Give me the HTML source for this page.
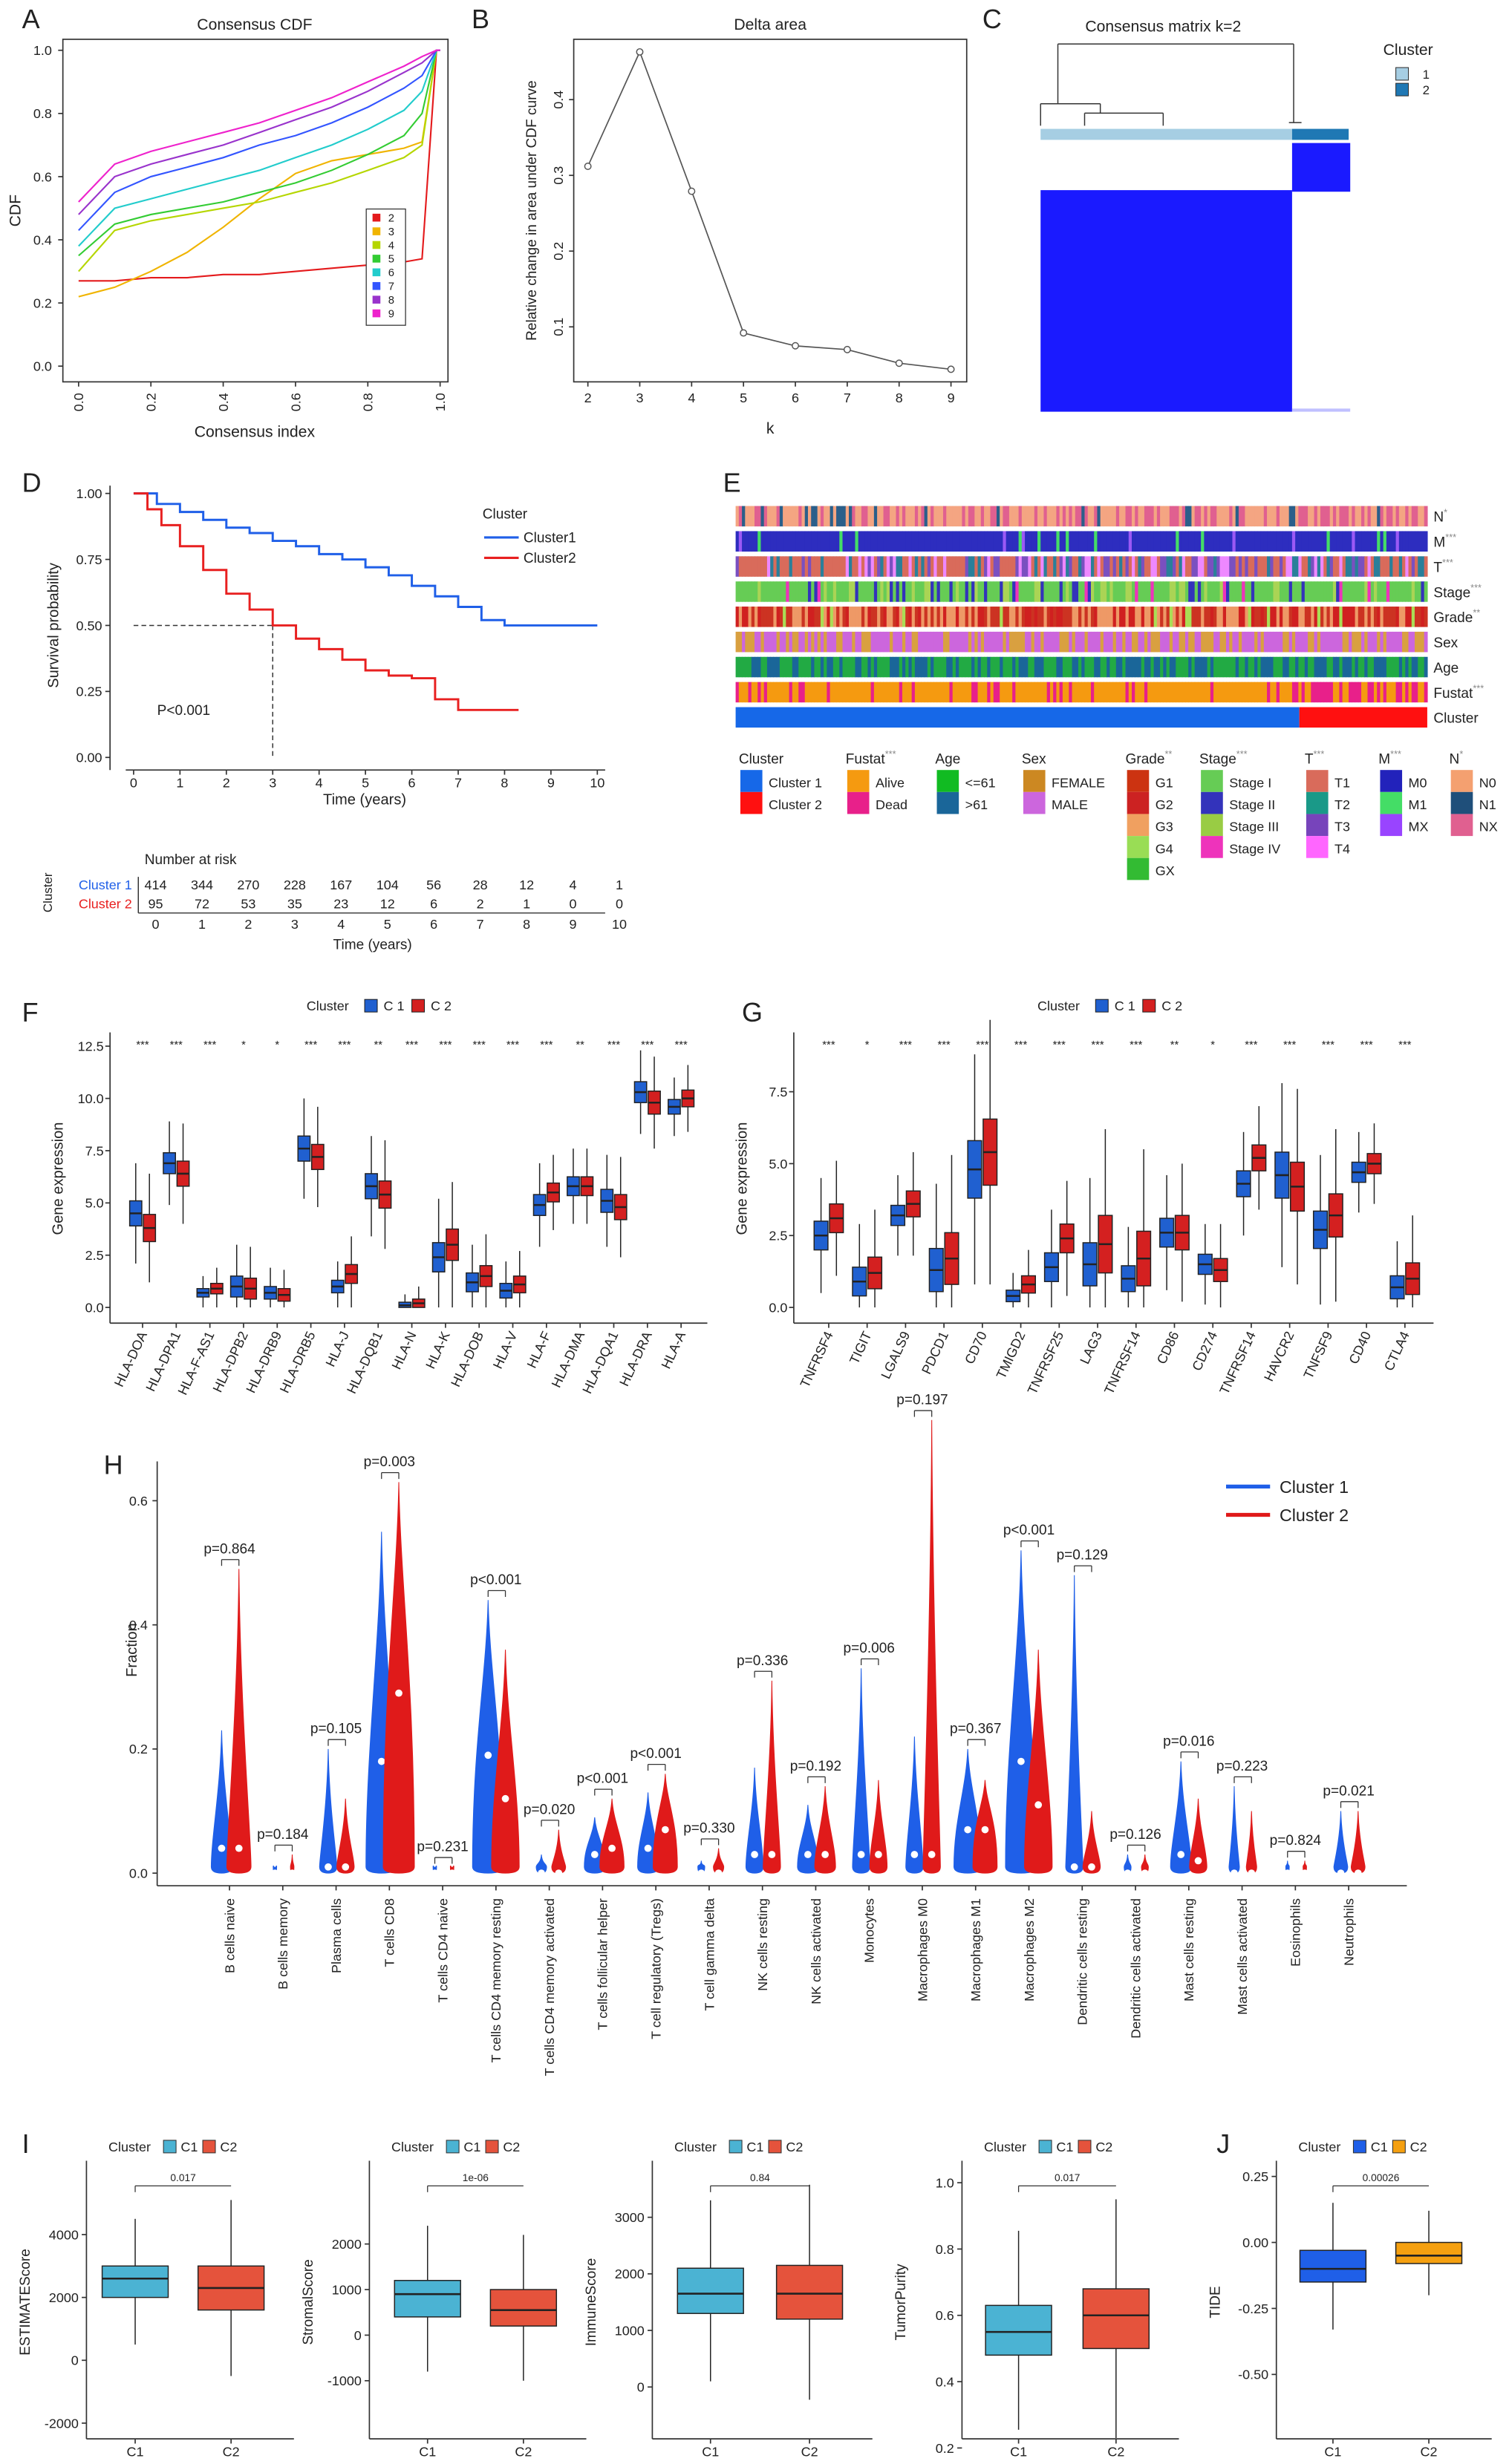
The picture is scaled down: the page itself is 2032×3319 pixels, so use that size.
<!DOCTYPE html>
<html><head><meta charset="utf-8">
<style>
html,body{margin:0;padding:0;background:#fff;}
svg{display:block;font-family:"Liberation Sans",sans-serif;}
</style></head>
<body>
<svg id="fig" width="2032" height="3319" viewBox="0 0 960 1568" preserveAspectRatio="none" xmlns="http://www.w3.org/2000/svg"></svg>
<script>
// ---------- DATA ----------
const cdfK = [2,3,4,5,6,7,8,9];
const cdfColors = ['#e41a1c','#f0b400','#b5d600','#33cc33','#22cccc','#3355ff','#9933cc','#ee22cc'];
const cdfX = [0,0.1,0.2,0.3,0.4,0.5,0.6,0.7,0.8,0.9,0.95,0.99];
const cdfK2 = [0.27,0.27,0.28,0.28,0.29,0.29,0.30,0.31,0.32,0.33,0.34,1];
const cdfK3 = [0.22,0.25,0.30,0.36,0.44,0.53,0.61,0.65,0.67,0.69,0.71,1];
const cdfK4 = [0.30,0.43,0.46,0.48,0.50,0.52,0.55,0.58,0.62,0.66,0.70,1];
const cdfK5 = [0.35,0.45,0.48,0.50,0.52,0.55,0.58,0.62,0.67,0.73,0.80,1];
const cdfK6 = [0.38,0.50,0.53,0.56,0.59,0.62,0.66,0.70,0.75,0.81,0.87,1];
const cdfK7 = [0.43,0.55,0.60,0.63,0.66,0.70,0.73,0.77,0.82,0.88,0.92,1];
const cdfK8 = [0.48,0.60,0.64,0.67,0.70,0.74,0.78,0.82,0.87,0.93,0.96,1];
const cdfK9 = [0.52,0.64,0.68,0.71,0.74,0.77,0.81,0.85,0.90,0.95,0.98,1];
const deltaK = [2,3,4,5,6,7,8,9];
const deltaV = [0.312,0.463,0.279,0.092,0.075,0.070,0.052,0.044];
const survT1 = [0,0.5,1,1.5,2,2.5,3,3.5,4,4.5,5,5.5,6,6.5,7,7.5,8,9,10];
const survS1 = [1,0.96,0.93,0.90,0.87,0.85,0.82,0.80,0.77,0.75,0.72,0.69,0.65,0.61,0.57,0.52,0.50,0.50,0.50];
const survT2 = [0,0.3,0.6,1,1.5,2,2.5,3,3.5,4,4.5,5,5.5,6,6.5,7,7.5,8.3];
const survS2 = [1,0.94,0.88,0.80,0.71,0.62,0.56,0.50,0.45,0.41,0.37,0.33,0.31,0.30,0.22,0.18,0.18,0.18];
const riskTimes = [0,1,2,3,4,5,6,7,8,9,10];
const risk1 = [414,344,270,228,167,104,56,28,12,4,1];
const risk2 = [95,72,53,35,23,12,6,2,1,0,0];
const fGenes = ['HLA-DOA','HLA-DPA1','HLA-F-AS1','HLA-DPB2','HLA-DRB9','HLA-DRB5','HLA-J','HLA-DQB1','HLA-N','HLA-K','HLA-DOB','HLA-V','HLA-F','HLA-DMA','HLA-DQA1','HLA-DRA','HLA-A'];
const fStars = ['***','***','***','*','*','***','***','**','***','***','***','***','***','**','***','***','***'];
const fMed1 = [4.5,6.9,0.7,1.0,0.7,7.6,1.0,5.8,0.1,2.4,1.2,0.8,4.9,5.8,5.1,10.3,9.6];
const fIqr1 = [1.2,1.0,0.4,1.0,0.6,1.2,0.6,1.2,0.3,1.4,0.9,0.7,1.0,0.9,1.1,1.0,0.7];
const fMed2 = [3.8,6.4,0.9,0.9,0.6,7.2,1.6,5.4,0.2,3.0,1.5,1.1,5.5,5.8,4.8,9.8,10.0];
const fIqr2 = [1.3,1.2,0.5,1.0,0.6,1.2,0.9,1.3,0.4,1.5,1.0,0.8,0.9,0.9,1.2,1.1,0.8];
const gGenes = ['TNFRSF4','TIGIT','LGALS9','PDCD1','CD70','TMIGD2','TNFRSF25','LAG3','TNFRSF14','CD86','CD274','TNFRSF14','HAVCR2','TNFSF9','CD40','CTLA4'];
const gStars = ['***','*','***','***','***','***','***','***','***','**','*','***','***','***','***','***'];
const gMed1 = [2.5,0.9,3.2,1.3,4.8,0.4,1.4,1.5,1.0,2.6,1.5,4.3,4.6,2.7,4.7,0.7];
const gIqr1 = [1.0,1.0,0.7,1.5,2.0,0.4,1.0,1.5,0.9,1.0,0.7,0.9,1.6,1.3,0.7,0.8];
const gMed2 = [3.1,1.2,3.6,1.7,5.4,0.8,2.4,2.2,1.7,2.6,1.3,5.2,4.2,3.2,5.0,1.0];
const gIqr2 = [1.0,1.1,0.9,1.8,2.3,0.6,1.0,2.0,1.9,1.2,0.8,0.9,1.7,1.5,0.7,1.1];
const hCells = ['B cells naive','B cells memory','Plasma cells','T cells CD8','T cells CD4 naive','T cells CD4 memory resting','T cells CD4 memory activated','T cells follicular helper','T cell regulatory (Tregs)','T cell gamma delta','NK cells resting','NK cells activated','Monocytes','Macrophages M0','Macrophages M1','Macrophages M2','Dendritic cells resting','Dendritic cells activated','Mast cells resting','Mast cells activated','Eosinophils','Neutrophils'];
const hP = ['p=0.864','p=0.184','p=0.105','p=0.003','p=0.231','p<0.001','p=0.020','p<0.001','p<0.001','p=0.330','p=0.336','p=0.192','p=0.006','p=0.197','p=0.367','p<0.001','p=0.129','p=0.126','p=0.016','p=0.223','p=0.824','p=0.021'];
const hMed1 = [0.04,0,0.01,0.18,0,0.19,0,0.03,0.04,0,0.03,0.03,0.03,0.03,0.07,0.18,0.01,0,0.03,0,0,0];
const hMed2 = [0.04,0,0.01,0.29,0,0.12,0,0.04,0.07,0,0.03,0.03,0.03,0.03,0.07,0.11,0.01,0,0.02,0,0,0];
const hMax1 = [0.23,0.01,0.20,0.55,0.01,0.44,0.03,0.09,0.13,0.02,0.17,0.11,0.33,0.22,0.20,0.52,0.48,0.03,0.18,0.14,0.02,0.10];
const hMax2 = [0.49,0.03,0.12,0.63,0.01,0.36,0.07,0.12,0.16,0.04,0.31,0.14,0.15,0.73,0.15,0.36,0.10,0.03,0.12,0.10,0.02,0.10];
const hWid1 = [0.6,0.1,0.5,0.9,0.1,0.9,0.3,0.6,0.6,0.2,0.5,0.6,0.5,0.5,0.8,0.9,0.5,0.2,0.6,0.3,0.1,0.4];
const hWid2 = [0.7,0.1,0.5,0.9,0.1,0.8,0.4,0.7,0.7,0.3,0.5,0.6,0.5,0.5,0.7,0.8,0.5,0.2,0.5,0.3,0.1,0.4];
const iTitles = ['ESTIMATEScore','StromalScore','ImmuneScore','TumorPurity','TIDE'];
const iP = ['0.017','1e-06','0.84','0.017','0.00026'];
const iQ1a = [2000,400,1300,0.48,-0.15], iMeda=[2600,900,1650,0.55,-0.10], iQ3a=[3000,1200,2100,0.63,-0.03];
const iQ1b = [1600,200,1200,0.50,-0.08], iMedb=[2300,550,1650,0.60,-0.05], iQ3b=[3000,1000,2150,0.68,0.00];
const iTicks = [[-2000,0,2000,4000],[-1000,0,1000,2000],[0,1000,2000,3000],[0.2,0.4,0.6,0.8,1.0],[-0.50,-0.25,0.00,0.25]];

// ---------- HELPERS ----------
const NS='http://www.w3.org/2000/svg';
const svg=document.getElementById('fig');
function E(tag,a,name,parent,inter){
  const el=document.createElementNS(NS,tag);
  for(const k in a) el.setAttribute(k,a[k]);
  
  
  (parent||svg).appendChild(el);
  return el;
}
function T(x,y,s,name,o,parent){
  o=o||{};
  const a={x:x,y:y,'font-size':o.fs||9,fill:o.fill||'#222','text-anchor':o.anchor||'middle'};
  if(o.rot!==undefined) a.transform='rotate('+o.rot+' '+x+' '+y+')';
  if(o.fw) a['font-weight']=o.fw;
  const t=E('text',a,name,parent);
  t.textContent=s; return t;
}
function L(x1,y1,x2,y2,name,st,w,parent,dash){
  const a={x1:x1,y1:y1,x2:x2,y2:y2,stroke:st||'#333','stroke-width':w||0.8};
  if(dash) a['stroke-dasharray']=dash;
  return E('line',a,name,parent);
}
function G(name){return E('g',{},name,svg);}
function boxplot(g,cx,w,q1,med,q3,ys,fill,name,vmin,stroke){
  const iqr=q3-q1; let lo=q1-1.5*iqr, hi=q3+1.5*iqr;
  if(vmin!==undefined && lo<vmin) lo=vmin;
  stroke=stroke||'#222';
  L(cx,ys(hi),cx,ys(q3),name+'-whisker-hi',stroke,0.7,g);
  L(cx,ys(q1),cx,ys(lo),name+'-whisker-lo',stroke,0.7,g);
  E('rect',{x:cx-w/2,y:ys(q3),width:w,height:Math.max(0.5,ys(q1)-ys(q3)),fill:fill,stroke:stroke,'stroke-width':0.7},name+'-box',g);
  L(cx-w/2,ys(med),cx+w/2,ys(med),name+'-median',stroke,1.2,g);
}

// ---------- PANEL LETTERS ----------
[['A',14,18],['B',300,18],['C',625,18],['D',14,313],['E',460,313],['F',14,650],['G',472,650],['H',66,938],['I',14,1370],['J',774,1370]].forEach(p=>T(p[1],p[2],p[0],'panel-label-'+p[0].toLowerCase(),{fs:17,anchor:'start'}));

// ---------- A: CDF ----------
(function(){
  const g=G('panel-a-consensus-cdf');
  const xs=v=>50+v*230, ys=v=>233-v*201;
  T(162,19,'Consensus CDF','panel-a-title',{fs:10},g);
  E('rect',{x:40,y:25,width:245,height:218,fill:'none',stroke:'#333','stroke-width':0.8},'panel-a-frame',g);
  [0,0.2,0.4,0.6,0.8,1].forEach(v=>{
    L(37,ys(v),40,ys(v),'y-tick',null,0.8,g);
    T(33,ys(v)+3,v.toFixed(1),'y-tick-label',{fs:8.5,anchor:'end'},g);
    L(xs(v),243,xs(v),246,'x-tick',null,0.8,g);
    T(xs(v)+3,250,v.toFixed(1),'x-tick-label',{fs:8.5,anchor:'end',rot:-90},g);
  });
  T(13,134,'CDF','y-axis-title',{fs:10,rot:-90},g);
  T(162,278,'Consensus index','x-axis-title',{fs:10},g);
  const series=[cdfK2,cdfK3,cdfK4,cdfK5,cdfK6,cdfK7,cdfK8,cdfK9];
  series.forEach((s,i)=>{
    let d='';
    s.forEach((v,j)=>{d+=(j?'L':'M')+xs(cdfX[j]).toFixed(1)+','+ys(v).toFixed(1);});
    d+='L'+xs(1)+','+ys(1);
    E('path',{d:d,fill:'none',stroke:cdfColors[i],'stroke-width':1},'cdf-line-k'+cdfK[i],g);
  });
  E('rect',{x:233,y:133,width:25,height:74,fill:'#fff',stroke:'#333','stroke-width':0.6},'legend-box',g);
  cdfK.forEach((k,i)=>{
    const y=139+i*8.7;
    E('rect',{x:237,y:y-3,width:5,height:5,fill:cdfColors[i]},'legend-swatch-k'+k,g);
    T(247,y+2,String(k),'legend-entry-k'+k,{fs:7,anchor:'start'},g);
  });
})();

// ---------- B: delta ----------
(function(){
  const g=G('panel-b-delta-area');
  const xs=k=>374+(k-2)*33, ys=v=>208-(v-0.1)*482;
  T(490,19,'Delta area','panel-b-title',{fs:10},g);
  E('rect',{x:365,y:25,width:250,height:218,fill:'none',stroke:'#333','stroke-width':0.8},'panel-b-frame',g);
  [0.1,0.2,0.3,0.4].forEach(v=>{
    L(362,ys(v),365,ys(v),'y-tick',null,0.8,g);
    T(358,ys(v),v.toFixed(1),'y-tick-label',{fs:8.5,rot:-90},g);
  });
  deltaK.forEach(k=>{L(xs(k),243,xs(k),246,'x-tick',null,0.8,g);T(xs(k),256,String(k),'x-tick-label',{fs:8.5},g);});
  T(341,134,'Relative change in area under CDF curve','y-axis-title',{fs:9,rot:-90},g);
  T(490,276,'k','x-axis-title',{fs:10},g);
  let d='';deltaK.forEach((k,i)=>{d+=(i?'L':'M')+xs(k)+','+ys(deltaV[i]).toFixed(1);});
  E('path',{d:d,fill:'none',stroke:'#555','stroke-width':0.8},'delta-line',g);
  deltaK.forEach((k,i)=>E('circle',{cx:xs(k),cy:ys(deltaV[i]),r:2,fill:'#fff',stroke:'#555','stroke-width':0.7},'delta-point-k'+k,g));
})();

// ---------- C: consensus matrix ----------
(function(){
  const g=G('panel-c-consensus-matrix');
  T(740,20,'Consensus matrix k=2','panel-c-title',{fs:10},g);
  const st='#333';
  L(673,28,823,28,'dendrogram',st,0.7,g);L(673,28,673,66,'dendrogram',st,0.7,g);L(823,28,823,78,'dendrogram',st,0.7,g);
  L(662,66,700,66,'dendrogram',st,0.7,g);L(662,66,662,80,'dendrogram',st,0.7,g);L(700,66,700,72,'dendrogram',st,0.7,g);
  L(690,72,740,72,'dendrogram',st,0.7,g);L(690,72,690,80,'dendrogram',st,0.7,g);L(740,72,740,80,'dendrogram',st,0.7,g);
  L(820,78,828,78,'dendrogram',st,0.7,g);
  E('rect',{x:662,y:82,width:160,height:7,fill:'#a6cee3'},'cluster-bar-1',g);
  E('rect',{x:822,y:82,width:36,height:7,fill:'#1f78b4'},'cluster-bar-2',g);
  E('rect',{x:822,y:91,width:37,height:31,fill:'#1a1aff'},'matrix-block-2',g);
  E('rect',{x:662,y:121,width:160,height:141,fill:'#1a1aff'},'matrix-block-1',g);
  E('rect',{x:822,y:260,width:37,height:2,fill:'#c0c0ff'},'matrix-edge',g);
  T(880,35,'Cluster','legend-title',{fs:10,anchor:'start'},g);
  E('rect',{x:888,y:43,width:8,height:8,fill:'#a6cee3',stroke:'#333','stroke-width':0.5},'legend-swatch-1',g);
  T(905,50,'1','legend-entry-1',{fs:8,anchor:'start'},g);
  E('rect',{x:888,y:53,width:8,height:8,fill:'#1f78b4',stroke:'#333','stroke-width':0.5},'legend-swatch-2',g);
  T(905,60,'2','legend-entry-2',{fs:8,anchor:'start'},g);
})();

// ---------- D: survival ----------
(function(){
  const g=G('panel-d-survival');
  const xs=t=>85+t*29.5, ys=v=>482-v*168;
  L(70,309,70,490,'y-axis',null,0.8,g);L(80,490,385,490,'x-axis',null,0.8,g);
  [0,0.25,0.5,0.75,1].forEach(v=>{L(67,ys(v),70,ys(v),'y-tick',null,0.8,g);T(65,ys(v)+3,v.toFixed(2),'y-tick-label',{fs:8.5,anchor:'end'},g);});
  riskTimes.forEach(t=>{L(xs(t),490,xs(t),493,'x-tick',null,0.8,g);T(xs(t),501,String(t),'x-tick-label',{fs:8.5},g);});
  T(37,398,'Survival probability','y-axis-title',{fs:9.5,rot:-90},g);
  T(232,512,'Time (years)','x-axis-title',{fs:9.5},g);
  L(85,ys(0.5),xs(3),ys(0.5),'median-line',null,0.7,g,'3,2');L(xs(3),ys(0.5),xs(3),482,'median-line',null,0.7,g,'3,2');
  T(100,455,'P<0.001','p-value',{fs:9,anchor:'start'},g);
  function step(T_,S_,col,name){
    let d='M'+xs(T_[0])+','+ys(S_[0]);
    for(let i=1;i<T_.length;i++){d+='H'+xs(T_[i]).toFixed(1)+'V'+ys(S_[i]).toFixed(1);}
    E('path',{d:d,fill:'none',stroke:col,'stroke-width':1.4},name,g);
  }
  step(survT1,survS1,'#1f5fe8','survival-curve-cluster1');
  step(survT2,survS2,'#e82020','survival-curve-cluster2');
  T(307,330,'Cluster','legend-title',{fs:9,anchor:'start'},g);
  L(308,342,330,342,'legend-line-cluster1','#1f5fe8',1.5,g);T(333,345,'Cluster1','legend-entry-cluster1',{fs:9,anchor:'start'},g);
  L(308,355,330,355,'legend-line-cluster2','#e82020',1.5,g);T(333,358,'Cluster2','legend-entry-cluster2',{fs:9,anchor:'start'},g);
  T(92,550,'Number at risk','risk-table-title',{fs:9,anchor:'start'},g);
  T(33,568,'Cluster','risk-y-title',{fs:8,rot:-90},g);
  T(84,566,'Cluster 1','risk-row-label-1',{fs:8.5,anchor:'end',fill:'#1f5fe8'},g);
  T(84,578,'Cluster 2','risk-row-label-2',{fs:8.5,anchor:'end',fill:'#e82020'},g);
  L(88,558,88,581,'risk-axis',null,0.7,g);L(88,581,385,581,'risk-axis',null,0.7,g);
  riskTimes.forEach((t,i)=>{
    T(xs(t)+14,566,String(risk1[i]),'risk-count-c1',{fs:8.5},g);
    T(xs(t)+14,578,String(risk2[i]),'risk-count-c2',{fs:8.5},g);
    T(xs(t)+14,591,String(t),'risk-x-tick-label',{fs:8.5},g);
  });
  T(237,604,'Time (years)','risk-x-title',{fs:9},g);
})();

// ---------- E: annotation heatmap ----------
const eRows=['N*','M***','T***','Stage***','Grade**','Sex','Age','Fustat***','Cluster'];
const ePal=[['#f4a582','#e06090','#2b5f8a'],['#2d2dbf','#44dd66','#9b59f5'],['#d96b5b','#2a7f9a','#7a50c0','#ee88ff'],['#66cc55','#aad455','#3333bb','#ee33bb'],['#cc3322','#ee9966','#d02020','#aadd55'],['#d9a040','#cc66dd'],['#22aa44','#1a6699'],['#f59a10','#e8208a'],['#1668e8','#ff1010']];
const eWeights=[[0.55,0.35,0.10],[0.88,0.08,0.04],[0.45,0.2,0.25,0.1],[0.6,0.2,0.12,0.08],[0.35,0.35,0.25,0.05],[0.4,0.6],[0.55,0.45],[0.8,0.2],[1,0]];
(function(){
  const g=G('panel-e-clinical-heatmap');
  const n=220,x0=468,x1=908,cw=(x1-x0)/n;
  let seed=12345;const rnd=()=>{seed=(seed*16807)%2147483647;return seed/2147483647;};
  eRows.forEach((r,ri)=>{
    const y=322+ri*16;
    const rg=E('g',{},'heatmap-row-'+r.replace(/\*/g,'').toLowerCase(),g);
    if(ri===8){
      E('rect',{x:x0,y:y,width:(x1-x0)*0.815,height:13,fill:ePal[8][0]},'cluster-1-block',rg);
      E('rect',{x:x0+(x1-x0)*0.815,y:y,width:(x1-x0)*0.185,height:13,fill:ePal[8][1]},'cluster-2-block',rg);
    } else {
      for(let i=0;i<n;i++){
        let w=eWeights[ri].slice();
        if(ri===7 && i>n*0.815) w=[0.4,0.6];
        let u=rnd(),c=0,acc=0;for(;c<w.length;c++){acc+=w[c];if(u<acc)break;}
        if(c>=w.length)c=w.length-1;
        E('rect',{x:(x0+i*cw).toFixed(2),y:y,width:(cw+0.3).toFixed(2),height:13,fill:ePal[ri][c]},'heatmap-cell',rg);
      }
    }
    const base=r.replace(/\*/g,''),stars=r.slice(base.length);
    const t=T(912,y+10,base,'row-label',{fs:9,anchor:'start'},g);
    if(stars){const s=document.createElementNS(NS,'tspan');s.setAttribute('dy','-4');s.setAttribute('font-size','6');s.setAttribute('fill','#888');s.textContent=stars;t.appendChild(s);}
  });
  const groups=[
    ['Cluster',470,['Cluster 1','Cluster 2'],['#1668e8','#ff1010']],
    ['Fustat***',538,['Alive','Dead'],['#f59a10','#e8208a']],
    ['Age',595,['<=61','>61'],['#11bb22','#1a6699']],
    ['Sex',650,['FEMALE','MALE'],['#cc8822','#cc66dd']],
    ['Grade**',716,['G1','G2','G3','G4','GX'],['#cc3311','#cc2222','#f0a060','#99dd55','#33bb33']],
    ['Stage***',763,['Stage I','Stage II','Stage III','Stage IV'],['#66cc55','#3333bb','#99cc44','#ee33bb']],
    ['T***',830,['T1','T2','T3','T4'],['#d96b5b','#1a9988','#7744bb','#ff66ff']],
    ['M***',877,['M0','M1','MX'],['#2222bb','#44dd66','#9944ff']],
    ['N*',922,['N0','N1','NX'],['#f4a070','#1f4f7a','#e06090']]
  ];
  groups.forEach(gr=>{
    const lg=E('g',{},'legend-'+gr[0].replace(/\*/g,'').toLowerCase(),g);
    const base=gr[0].replace(/\*/g,''),stars=gr[0].slice(base.length);
    const t=T(gr[1],486,base,'legend-title',{fs:9,anchor:'start'},lg);
    if(stars){const s=document.createElementNS(NS,'tspan');s.setAttribute('dy','-4');s.setAttribute('font-size','6');s.setAttribute('fill','#888');s.textContent=stars;t.appendChild(s);}
    gr[2].forEach((lab,i)=>{
      E('rect',{x:gr[1]+1,y:490+i*14,width:14,height:14,fill:gr[3][i]},'legend-swatch',lg);
      T(gr[1]+19,501+i*14,lab,'legend-entry',{fs:8.5,anchor:'start'},lg);
    });
  });
})();

// ---------- F & G: boxplots ----------
function boxPanel(name,x0,x1,ymax,ys,ticks,genes,stars,m1,i1,m2,i2,legendX){
  const g=G(name);
  L(x0,657,x0,842,'y-axis',null,0.8,g);L(x0,842,x1,842,'x-axis',null,0.8,g);
  ticks.forEach(v=>{L(x0-3,ys(v),x0,ys(v),'y-tick',null,0.8,g);T(x0-4,ys(v)+3,v.toFixed(1),'y-tick-label',{fs:8.5,anchor:'end'},g);});
  T(x0-30,750,'Gene expression','y-axis-title',{fs:9.5,rot:-90},g);
  const n=genes.length,step=(x1-x0-16)/n,bw=step*0.36;
  genes.forEach((gn,i)=>{
    const cx=x0+10+step*(i+0.5);
    boxplot(g,cx-bw/2-0.5,bw,Math.max(0,m1[i]-i1[i]/2),m1[i],m1[i]+i1[i]/2,ys,'#2060d0','box-c1-'+gn.toLowerCase(),0);
    boxplot(g,cx+bw/2+0.5,bw,Math.max(0,m2[i]-i2[i]/2),m2[i],m2[i]+i2[i]/2,ys,'#d42020','box-c2-'+gn.toLowerCase(),0);
    T(cx,667,stars[i],'significance-stars',{fs:7},g);
    L(cx,842,cx,845,'x-tick',null,0.8,g);
    T(cx+3,849,gn,'x-tick-label',{fs:8.5,anchor:'end',rot:-65},g);
  });
  T(legendX,643,'Cluster','legend-title',{fs:8.5,anchor:'start'},g);
  E('rect',{x:legendX+37,y:636,width:8,height:8,fill:'#2060d0',stroke:'#222','stroke-width':0.5},'legend-swatch-c1',g);
  T(legendX+49,643,'C 1','legend-entry-c1',{fs:8.5,anchor:'start'},g);
  E('rect',{x:legendX+67,y:636,width:8,height:8,fill:'#d42020',stroke:'#222','stroke-width':0.5},'legend-swatch-c2',g);
  T(legendX+79,643,'C 2','legend-entry-c2',{fs:8.5,anchor:'start'},g);
}
boxPanel('panel-f-hla-boxplot',70,450,12.5,v=>832-v*13.3,[0,2.5,5,7.5,10,12.5],fGenes,fStars,fMed1,fIqr1,fMed2,fIqr2,195);
boxPanel('panel-g-checkpoint-boxplot',505,912,7.5,v=>832-v*18.3,[0,2.5,5,7.5],gGenes,gStars,gMed1,gIqr1,gMed2,gIqr2,660);

// ---------- H: violins ----------
(function(){
  const g=G('panel-h-immune-violin');
  const ys=v=>1192-v*395;
  L(100,930,100,1200,'y-axis',null,0.8,g);L(100,1200,895,1200,'x-axis',null,0.8,g);
  [0,0.2,0.4,0.6].forEach(v=>{L(97,ys(v),100,ys(v),'y-tick',null,0.8,g);T(94,ys(v)+3,v.toFixed(1),'y-tick-label',{fs:8.5,anchor:'end'},g);});
  T(87,1050,'Fraction','y-axis-title',{fs:9.5,rot:-90},g);
  const step=(858-146)/21;
  function violin(cx,med,max,wid,col,name){
    const bw=11*wid, y0=ys(0), yM=ys(med), yT=ys(max);
    const d='M'+cx+','+yT+' C'+(cx+bw*0.12)+','+(yT+(yM-yT)*0.5)+' '+(cx+bw)+','+(yM-6)+' '+(cx+bw)+','+(y0-4)+
      ' Q'+(cx+bw)+','+y0+' '+cx+','+y0+' Q'+(cx-bw)+','+y0+' '+(cx-bw)+','+(y0-4)+
      ' C'+(cx-bw)+','+(yM-6)+' '+(cx-bw*0.12)+','+(yT+(yM-yT)*0.5)+' '+cx+','+yT+'Z';
    E('path',{d:d,fill:col,stroke:col,'stroke-width':0.5},name,g);
    E('circle',{cx:cx,cy:yM,r:2.3,fill:'#fff'},name+'-median',g);
  }
  hCells.forEach((c,i)=>{
    const cx=146+i*step, nm=c.toLowerCase().replace(/[^a-z0-9]+/g,'-');
    violin(cx-5,hMed1[i],hMax1[i],hWid1[i],'#1f5fe8','violin-c1-'+nm);
    violin(cx+6,hMed2[i],hMax2[i],hWid2[i],'#e01a1a','violin-c2-'+nm);
    const top=ys(Math.max(hMax1[i],hMax2[i]))-6;
    L(cx-5,top,cx+6,top,'p-bracket',null,0.6,g);L(cx-5,top,cx-5,top+4,'p-bracket',null,0.6,g);L(cx+6,top,cx+6,top+4,'p-bracket',null,0.6,g);
    T(cx,top-4,hP[i],'p-value-label',{fs:9},g);
    L(cx,1200,cx,1203,'x-tick',null,0.8,g);
    T(cx+3,1208,c,'x-tick-label',{fs:8.5,anchor:'end',rot:-90},g);
  });
  L(780,946,808,946,'legend-line-cluster1','#1f5fe8',2.5,g);T(814,950,'Cluster 1','legend-entry-cluster1',{fs:11,anchor:'start'},g);
  L(780,964,808,964,'legend-line-cluster2','#e01a1a',2.5,g);T(814,968,'Cluster 2','legend-entry-cluster2',{fs:11,anchor:'start'},g);
})();

// ---------- I & J ----------
(function(){
  const specs=[
    {ax:55,c1:86,c2:147,ys:v=>1502-v*0.02,dec:0},
    {ax:235,c1:272,c2:333,ys:v=>1486-v*0.029,dec:0},
    {ax:415,c1:452,c2:515,ys:v=>1519-v*0.036,dec:0},
    {ax:612,c1:648,c2:710,ys:v=>1600-v*211,dec:1},
    {ax:812,c1:848,c2:909,ys:v=>1427-v*168,dec:2}
  ];
  specs.forEach((s,k)=>{
    const g=G('panel-'+(k<4?'i':'j')+'-'+iTitles[k].toLowerCase());
    const isJ=k===4, col1=isJ?'#1f5fe8':'#4bb3d3', col2=isJ?'#f5a010':'#e5533c';
    L(s.ax,1375,s.ax,1552,'y-axis',null,0.8,g);L(s.ax,1552,s.c2+40,1552,'x-axis',null,0.8,g);
    iTicks[k].forEach(v=>{L(s.ax-3,s.ys(v),s.ax,s.ys(v),'y-tick',null,0.8,g);T(s.ax-5,s.ys(v)+3,s.dec?v.toFixed(s.dec):String(v),'y-tick-label',{fs:8.5,anchor:'end'},g);});
    T(s.ax-36,1465,iTitles[k],'y-axis-title',{fs:9,rot:-90},g);
    boxplot(g,s.c1,42,iQ1a[k],iMeda[k],iQ3a[k],s.ys,col1,'box-c1');
    boxplot(g,s.c2,42,iQ1b[k],iMedb[k],iQ3b[k],s.ys,col2,'box-c2');
    [s.c1,s.c2].forEach((cx,i)=>{L(cx,1552,cx,1555,'x-tick',null,0.8,g);T(cx,1563,'C'+(i+1),'x-tick-label',{fs:8.5},g);});
    L(s.c1,1391,s.c2,1391,'p-bracket',null,0.6,g);L(s.c1,1391,s.c1,1395,'p-bracket',null,0.6,g);
    T((s.c1+s.c2)/2,1388,iP[k],'p-value-label',{fs:6.5},g);
    const lx=s.ax+14;
    T(lx,1369,'Cluster','legend-title',{fs:8.5,anchor:'start'},g);
    E('rect',{x:lx+35,y:1362,width:8,height:8,fill:col1,stroke:'#333','stroke-width':0.5},'legend-swatch-c1',g);
    T(lx+46,1369,'C1','legend-entry-c1',{fs:8.5,anchor:'start'},g);
    E('rect',{x:lx+60,y:1362,width:8,height:8,fill:col2,stroke:'#333','stroke-width':0.5},'legend-swatch-c2',g);
    T(lx+71,1369,'C2','legend-entry-c2',{fs:8.5,anchor:'start'},g);
  });
})();
</script>
</body></html>
